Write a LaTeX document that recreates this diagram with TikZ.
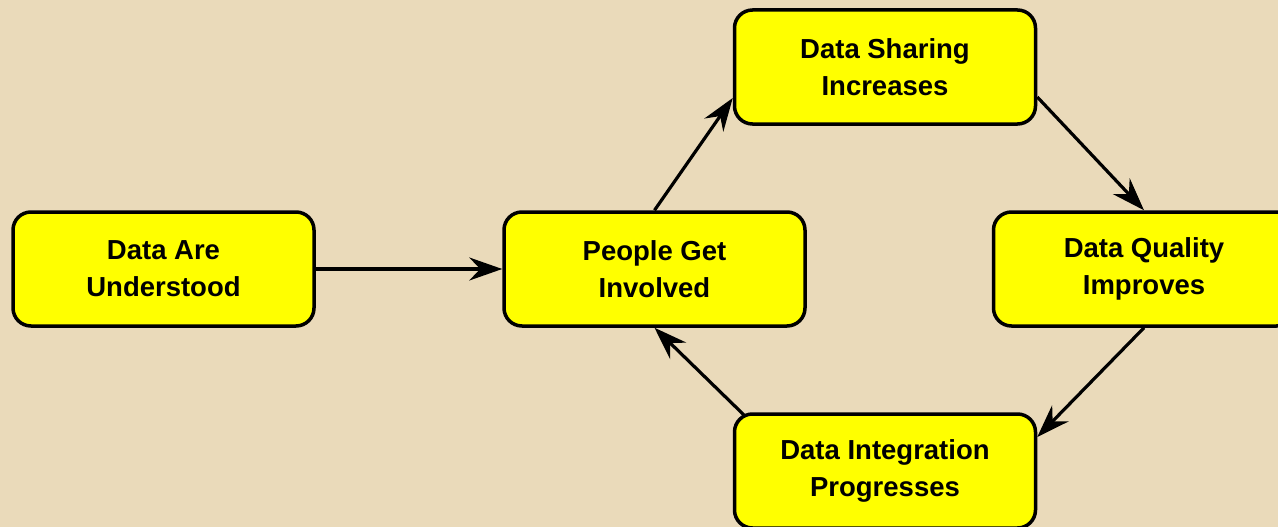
\documentclass[tikz,border=0pt]{standalone}
\usepackage{fontspec}
\setmainfont{Liberation Sans}
\usetikzlibrary{arrows.meta}
\definecolor{parch}{RGB}{234,218,186}
\definecolor{boxyellow}{RGB}{255,255,0}
\tikzset{
  stagebox/.style={draw=black, line width=3.5pt, fill=boxyellow, rounded corners=18pt,
    minimum width=301pt, minimum height=114pt, align=center, inner sep=0pt,
    font=\fontsize{27.5}{37}\selectfont\bfseries},
  flow/.style={line width=3.2pt, -{Stealth[length=33pt,width=23pt,inset=11pt]}}
}
\begin{document}
\begin{tikzpicture}[x=1pt,y=-1pt]
\useasboundingbox (0,0) rectangle (1278,527);
\clip (0,0) rectangle (1278,527);
\fill[parch] (0,0) rectangle (1278,527);
\node[stagebox] (A) at (163.5,269) {Data Are\\Understood};
\node[stagebox] (B) at (654.5,269) {People Get\\Involved};
\node[stagebox] (C) at (885,67) {Data Sharing\\Increases};
\node[stagebox] (D) at (1144,269) {Data Quality\\Improves};
\node[stagebox] (E) at (885,471) {Data Integration\\Progresses};
\coordinate (Cin) at ([yshift=-31pt]C.west);
\coordinate (Cout) at ([yshift=-30pt]C.east);
\coordinate (Ein) at ([yshift=34pt]E.east);
\coordinate (Eout) at (745,416);
\draw[flow] (A.east) -- (B.west);
\draw[flow] (B.north) -- (Cin);
\draw[flow] (Cout) -- (D.north);
\draw[flow] (D.south) -- (Ein);
\draw[flow] (Eout) -- (B.south);
\end{tikzpicture}
\end{document}
